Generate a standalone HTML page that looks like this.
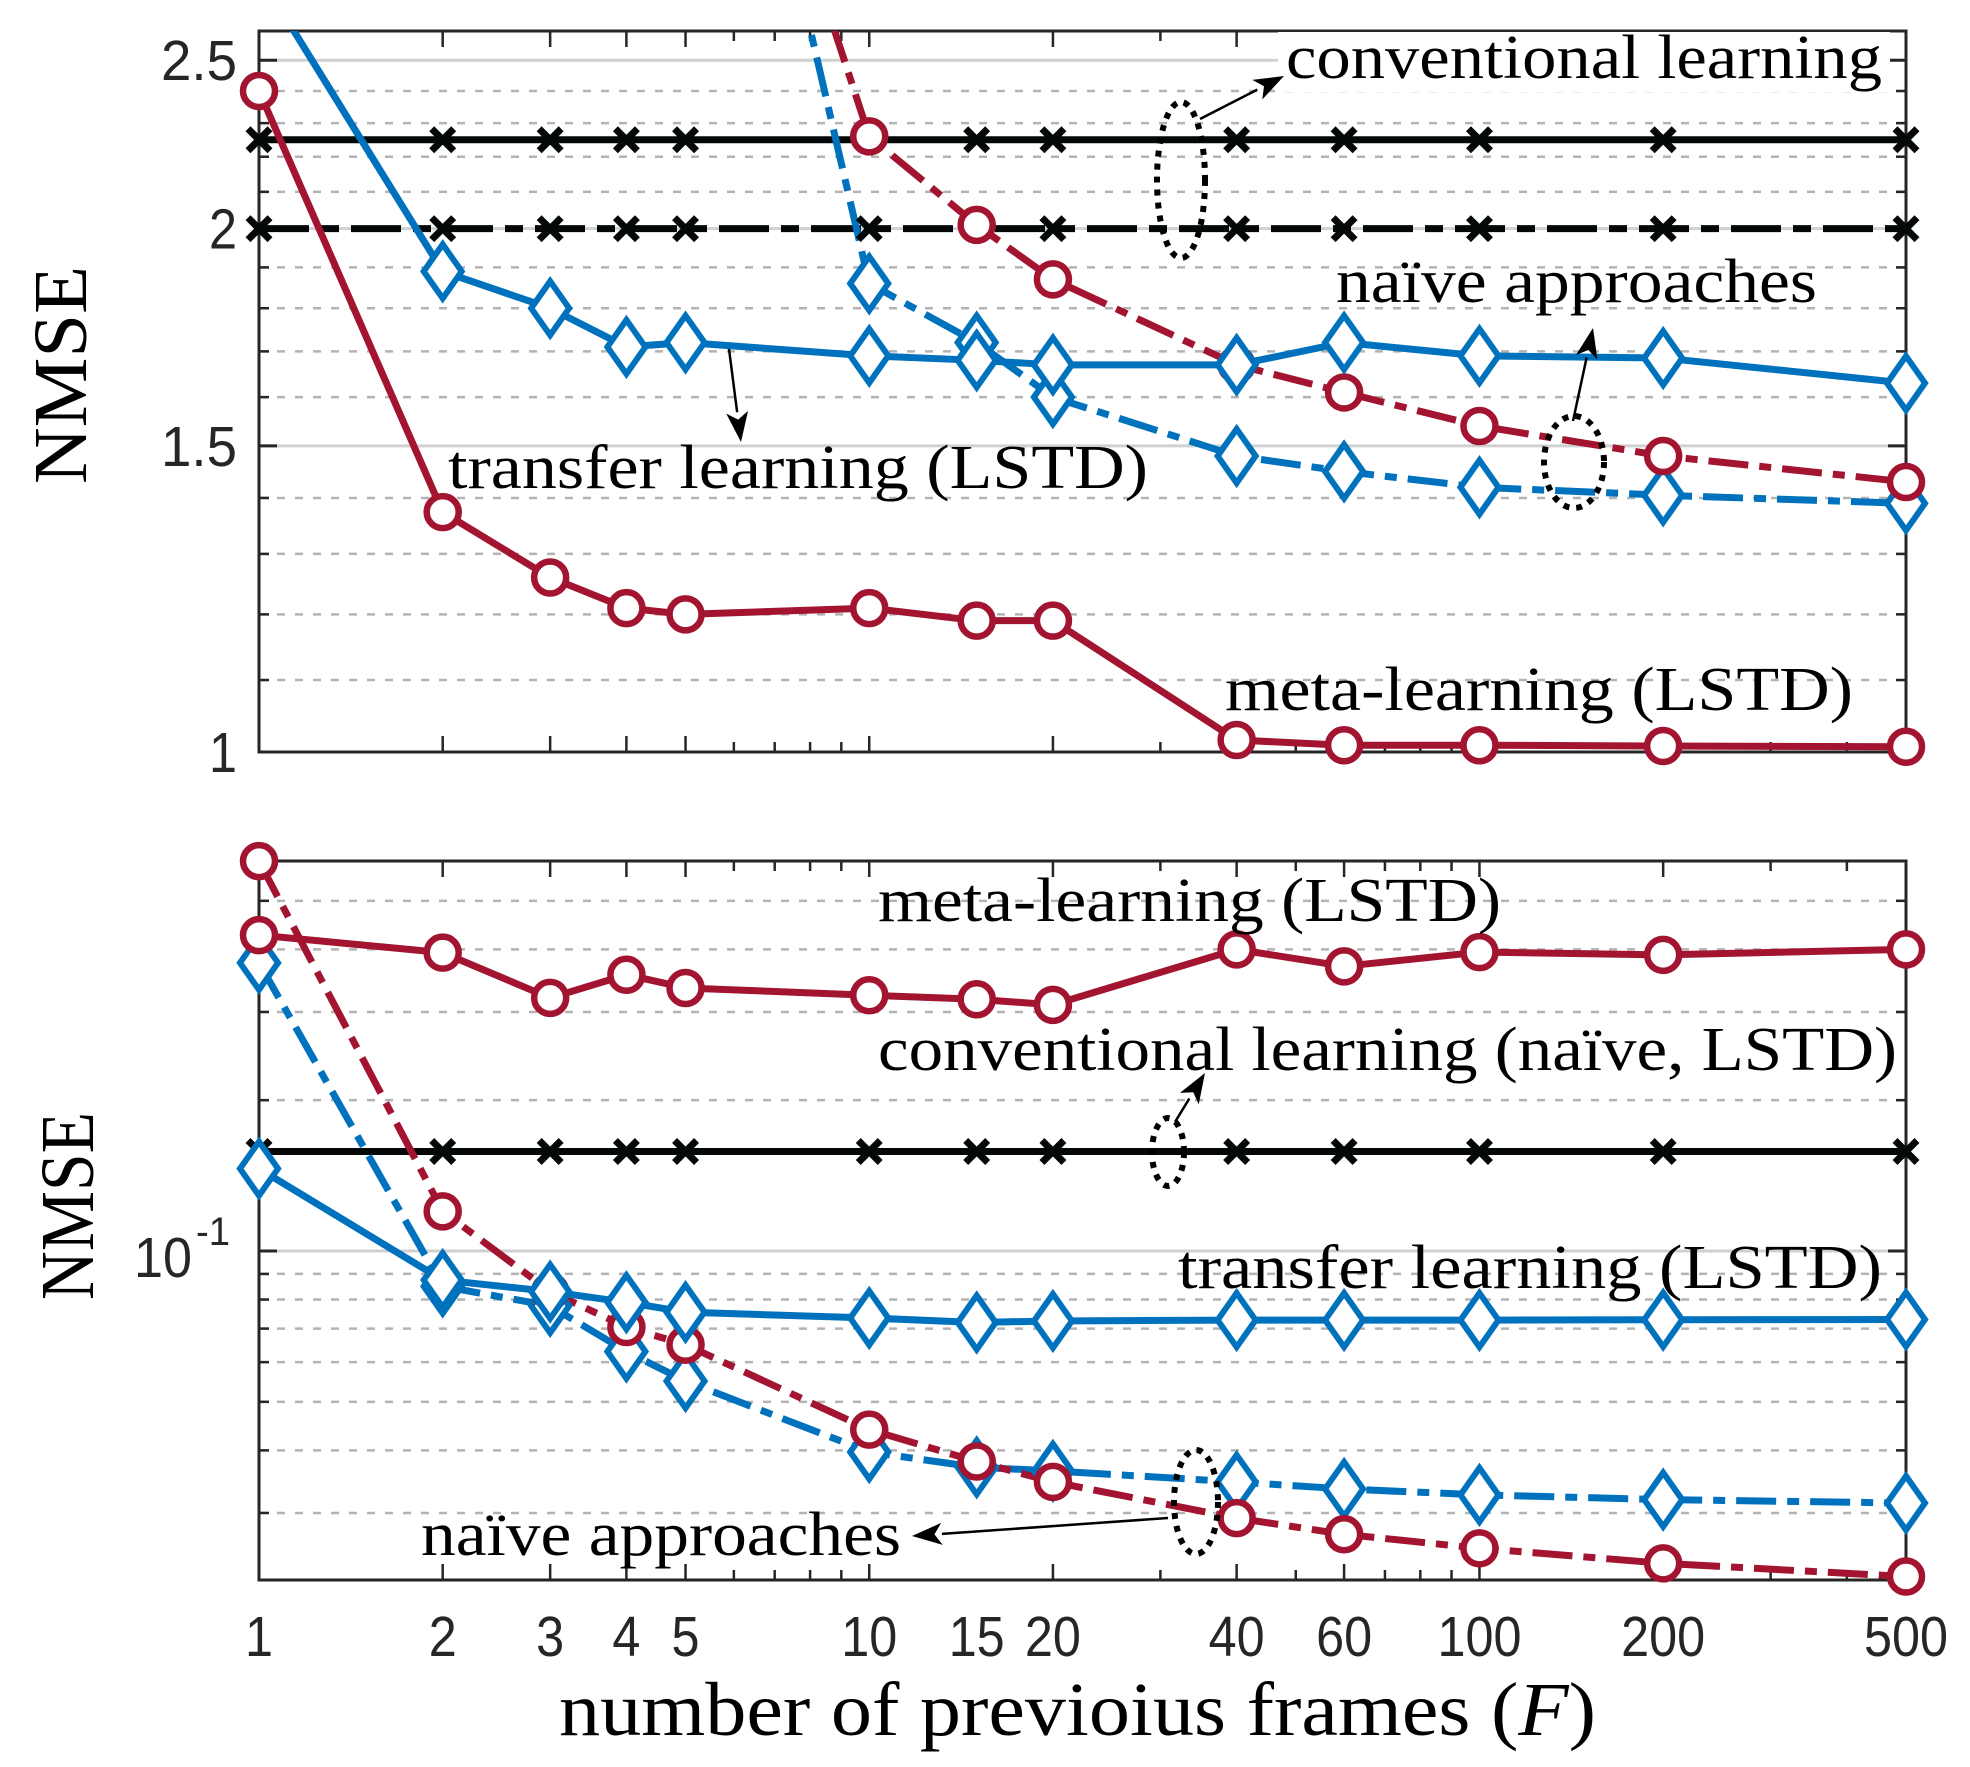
<!DOCTYPE html>
<html><head><meta charset="utf-8">
<style>
html,body{margin:0;padding:0;background:#fff;}
svg{display:block;}
.serif{font-family:"Liberation Serif",serif;fill:#000;}
.tick{font-family:"Liberation Sans",sans-serif;fill:#262626;}
</style></head>
<body>
<svg id="chart" width="1970" height="1767" viewBox="0 0 1970 1767" xmlns="http://www.w3.org/2000/svg">
<defs>
<clipPath id="clipTop"><rect x="259" y="31" width="1647" height="721"/></clipPath>
<clipPath id="clipBot"><rect x="259" y="861" width="1647" height="719"/></clipPath>
</defs>
<g id="gTop"></g>
<g id="gBot"></g>
<g id="gAnn"></g>
</svg>
<script>
const categories = [1,2,3,4,5,10,15,20,40,60,100,200,500];
const xTickLabels = ["1","2","3","4","5","10","15","20","40","60","100","200","500"];
// top panel
const topMetaLSTD = [2.40,1.374,1.26,1.21,1.20,1.21,1.19,1.19,1.016,1.009,1.009,1.008,1.007];
const topMetaNaive = [10,8,6.5,5.5,4.75,2.26,2.01,1.87,1.67,1.61,1.54,1.48,1.43];
const topTransferLSTD = [2.8,1.89,1.80,1.71,1.72,1.69,1.68,1.67,1.67,1.72,1.69,1.685,1.63];
const topTransferNaive = [12,9,7,6,5.3,1.86,1.72,1.60,1.48,1.45,1.42,1.405,1.39];
const topConvLSTD = [2.25,2.25,2.25,2.25,2.25,2.25,2.25,2.25,2.25,2.25,2.25,2.25,2.25];
const topConvNaive = [2.0,2.0,2.0,2.0,2.0,2.0,2.0,2.0,2.0,2.0,2.0,2.0,2.0];
const topYTicks = [1,1.5,2,2.5];
const topYTickLabels = ["1","1.5","2","2.5"];
const topYMinor = [1.1,1.2,1.3,1.4,1.6,1.7,1.8,1.9,2.1,2.2,2.3,2.4];
// bottom panel
const botMetaLSTD = [0.427,0.394,0.32,0.356,0.335,0.324,0.318,0.31,0.40,0.37,0.395,0.39,0.40];
const botMetaNaive = [0.60,0.12,0.083,0.0705,0.065,0.044,0.038,0.0346,0.0293,0.0272,0.0255,0.0238,0.0224];
const botTransferLSTD = [0.146,0.0875,0.083,0.079,0.0755,0.0735,0.072,0.0725,0.0728,0.0728,0.0728,0.0729,0.073];
const botTransferNaive = [0.376,0.085,0.0777,0.063,0.055,0.0397,0.037,0.0364,0.0346,0.0335,0.0326,0.0319,0.0314];
const botConv = [0.158,0.158,0.158,0.158,0.158,0.158,0.158,0.158,0.158,0.158,0.158,0.158,0.158];
const botYMinor = [0.03,0.04,0.05,0.06,0.07,0.08,0.09,0.2,0.3,0.4,0.5];

const NS="http://www.w3.org/2000/svg";
const X0=259, X1=1906;
function xs(f){return X0+(X1-X0)*Math.log10(f)/Math.log10(500);}
const TOP={t:31,b:752};
function yTop(v){return 752-755*Math.log(v);}
const BOT={t:861,b:1580};
function yBot(v){return 1251-501*Math.log10(v/0.1);}
const BLUE="#0072BD", RED="#A2142F", BLK="#050808";
function mk(tag,attrs,parent){const e=document.createElementNS(NS,tag);for(const k in attrs)e.setAttribute(k,attrs[k]);parent.appendChild(e);return e;}

function panel(g,box,ys,minor,major,clipId){
  for(const v of minor){const y=ys(v);
    const l=mk('line',{x1:X0,x2:X1,y1:y,y2:y,stroke:'#b3b3b3','stroke-width':2.5,'stroke-dasharray':'8 10'},g);
    
    
    mk('line',{x1:X0,x2:X0+10,y1:y,y2:y,stroke:'#262626','stroke-width':2.5},g);
    mk('line',{x1:X1,x2:X1-10,y1:y,y2:y,stroke:'#262626','stroke-width':2.5},g);
  }
  for(const v of major){const y=ys(v);
    const l=mk('line',{x1:X0,x2:X1,y1:y,y2:y,stroke:'#d0d0d0','stroke-width':3},g);
    
    
    mk('line',{x1:X0,x2:X0+18,y1:y,y2:y,stroke:'#262626','stroke-width':3},g);
    mk('line',{x1:X1,x2:X1-18,y1:y,y2:y,stroke:'#262626','stroke-width':3},g);
  }
  const xt=[];for(const d of [1,10,100])for(let k=1;k<=9;k++){const f=k*d;if(f<=500)xt.push(f);}
  for(const f of xt){const x=xs(f);const major=categories.includes(f);const L=major?16:10;
    mk('line',{x1:x,x2:x,y1:box.b,y2:box.b-L,stroke:'#262626','stroke-width':2.5},g);
    mk('line',{x1:x,x2:x,y1:box.t,y2:box.t+L,stroke:'#262626','stroke-width':2.5},g);
  }
  const fr=mk('rect',{x:X0,y:box.t,width:X1-X0,height:box.b-box.t,fill:'none',stroke:'#262626','stroke-width':3},g);
  
  
  const cg=mk('g',{'clip-path':'url(#'+clipId+')'},g);
  const mg=mk('g',{},g);
  return {cg:cg,mg:mg,box:box};
}
function series(P,vals,ys,color,dash,marker,name){
  const pts=categories.map((f,i)=>[xs(f),ys(vals[i])]);
  const p=mk('polyline',{points:pts.map(p=>p.join(',')).join(' '),fill:'none',stroke:color,'stroke-width':7,'stroke-linejoin':'round'},P.cg);
  if(dash)p.setAttribute('stroke-dasharray',dash);
  
  
  for(const [x,y] of pts){
    if(y<P.box.t-2||y>P.box.b+2)continue;
    let m;
    if(marker==='o'){m=mk('circle',{cx:x,cy:y,r:16,fill:'#fff',stroke:color,'stroke-width':6.5},P.mg);}
    else if(marker==='d'){m=mk('polygon',{points:`${x},${y-27} ${x+19},${y} ${x},${y+27} ${x-19},${y}`,fill:'#fff',stroke:color,'stroke-width':6},P.mg);}
    else {m=mk('path',{d:`M${x-11},${y-11}L${x+11},${y+11}M${x-11},${y+11}L${x+11},${y-11}`,stroke:color,'stroke-width':7},P.mg);}
    
    
  }
}
const gTop=document.getElementById('gTop'), gBot=document.getElementById('gBot'), gAnn=document.getElementById('gAnn');
const pTop=panel(gTop,TOP,yTop,topYMinor,topYTicks,'clipTop');
series(pTop,topConvLSTD,yTop,BLK,null,'x','top-conventional-lstd');
series(pTop,topConvNaive,yTop,BLK,'50 12 18 12','x','top-conventional-naive');
series(pTop,topTransferNaive,yTop,BLUE,'40 11 12 11','d','top-transfer-naive');
series(pTop,topMetaNaive,yTop,RED,'40 11 12 11','o','top-meta-naive');
series(pTop,topTransferLSTD,yTop,BLUE,null,'d','top-transfer-lstd');
series(pTop,topMetaLSTD,yTop,RED,null,'o','top-meta-lstd');

const pBot=panel(gBot,BOT,yBot,botYMinor,[0.1],'clipBot');
series(pBot,botConv,yBot,BLK,null,'x','bottom-conventional');
series(pBot,botTransferNaive,yBot,BLUE,'40 11 12 11','d','bottom-transfer-naive');
series(pBot,botMetaNaive,yBot,RED,'40 11 12 11','o','bottom-meta-naive');
series(pBot,botTransferLSTD,yBot,BLUE,null,'d','bottom-transfer-lstd');
series(pBot,botMetaLSTD,yBot,RED,null,'o','bottom-meta-lstd');

function txt(parent,s,x,y,cls,size,anchor,len,name){
  const t=mk('text',{x:x,y:y,'class':cls,'font-size':size,'text-anchor':anchor||'start'},parent);
  if(len){t.setAttribute('textLength',len);t.setAttribute('lengthAdjust','spacingAndGlyphs');}
  t.textContent=s;
  
  
  return t;
}
categories.forEach((f,i)=>{txt(gAnn,xTickLabels[i],xs(f),1656,'tick',57,'middle',xTickLabels[i].length*28,'x-tick-label');});
topYTicks.forEach((v,i)=>{const s=topYTickLabels[i];txt(gAnn,s,237,yTop(v)+20,'tick',57,'end',s.length===3?(s.length*28-8):28,'y-tick-label');});
{txt(gAnn,'10',192,yBot(0.1)+26,'tick',57,'end',58,'y-tick-label');
 txt(gAnn,'-1',230,yBot(0.1)-6,'tick',40,'end',34,'y-tick-exponent');}

{const t=txt(gAnn,'NMSE',0,0,'serif',76,'middle',218,'top-y-axis-title');t.setAttribute('transform','translate(86,375) rotate(-90)');}
{const t=txt(gAnn,'NMSE',0,0,'serif',76,'middle',188,'bottom-y-axis-title');t.setAttribute('transform','translate(93,1206) rotate(-90)');}
{const t=mk('text',{x:559,y:1735,'class':'serif','font-size':76,textLength:1037,lengthAdjust:'spacingAndGlyphs'},gAnn);
 
 
 t.innerHTML='number of previoius frames (<tspan font-style="italic">F</tspan>)';}

mk('rect',{x:1278,y:32,width:612,height:60,fill:'#fff'},gAnn);
txt(gAnn,'conventional learning',1286,78,'serif',62,'start',596,'label-conventional-learning');
txt(gAnn,'naïve approaches',1336,302,'serif',62,'start',481,'label-naive-approaches-top');
txt(gAnn,'transfer learning (LSTD)',448,488,'serif',62,'start',700,'label-transfer-learning-top');
txt(gAnn,'meta-learning (LSTD)',1225,710,'serif',62,'start',628,'label-meta-learning-top');
txt(gAnn,'meta-learning (LSTD)',878,921,'serif',62,'start',623,'label-meta-learning-bottom');
txt(gAnn,'conventional learning (naïve, LSTD)',878,1070,'serif',62,'start',1019,'label-conventional-learning-bottom');
txt(gAnn,'transfer learning (LSTD)',1178,1288,'serif',62,'start',704,'label-transfer-learning-bottom');
txt(gAnn,'naïve approaches',421,1555,'serif',62,'start',480,'label-naive-approaches-bottom');

function ell(cx,cy,rx,ry,name){const e=mk('ellipse',{cx:cx,cy:cy,rx:rx,ry:ry,fill:'none',stroke:'#000','stroke-width':6,'stroke-dasharray':'6 7'},gAnn);
 
 }
ell(1181,180,24,78,'ellipse-conventional-top');
ell(1574,462,30,46,'ellipse-naive-top');
ell(1168,1152,16,34,'ellipse-conventional-bottom');
ell(1196,1502,22,52,'ellipse-naive-bottom');
function arrow(x1,y1,x2,y2,name){
  const g=mk('g',{},gAnn);
  
  
  const a=Math.atan2(y2-y1,x2-x1), L=30, W=11;
  const bx=x2-L*Math.cos(a), by=y2-L*Math.sin(a);
  mk('line',{x1:x1,y1:y1,x2:bx,y2:by,stroke:'#000','stroke-width':2.5},g);
  const px=-Math.sin(a)*W, py=Math.cos(a)*W;
  const mx=x2-L*0.75*Math.cos(a), my=y2-L*0.75*Math.sin(a);
  mk('polygon',{points:`${x2},${y2} ${bx+px},${by+py} ${mx},${my} ${bx-px},${by-py}`,fill:'#000'},g);
}
arrow(1200,119,1284,76,'arrow-conventional-top');
arrow(1573,421,1593,328,'arrow-naive-top');
arrow(729,349,741,442,'arrow-transfer-top');
arrow(1175,1122,1205,1073,'arrow-conventional-bottom');
arrow(1168,1518,912,1536,'arrow-naive-bottom');
</script>
</body></html>
